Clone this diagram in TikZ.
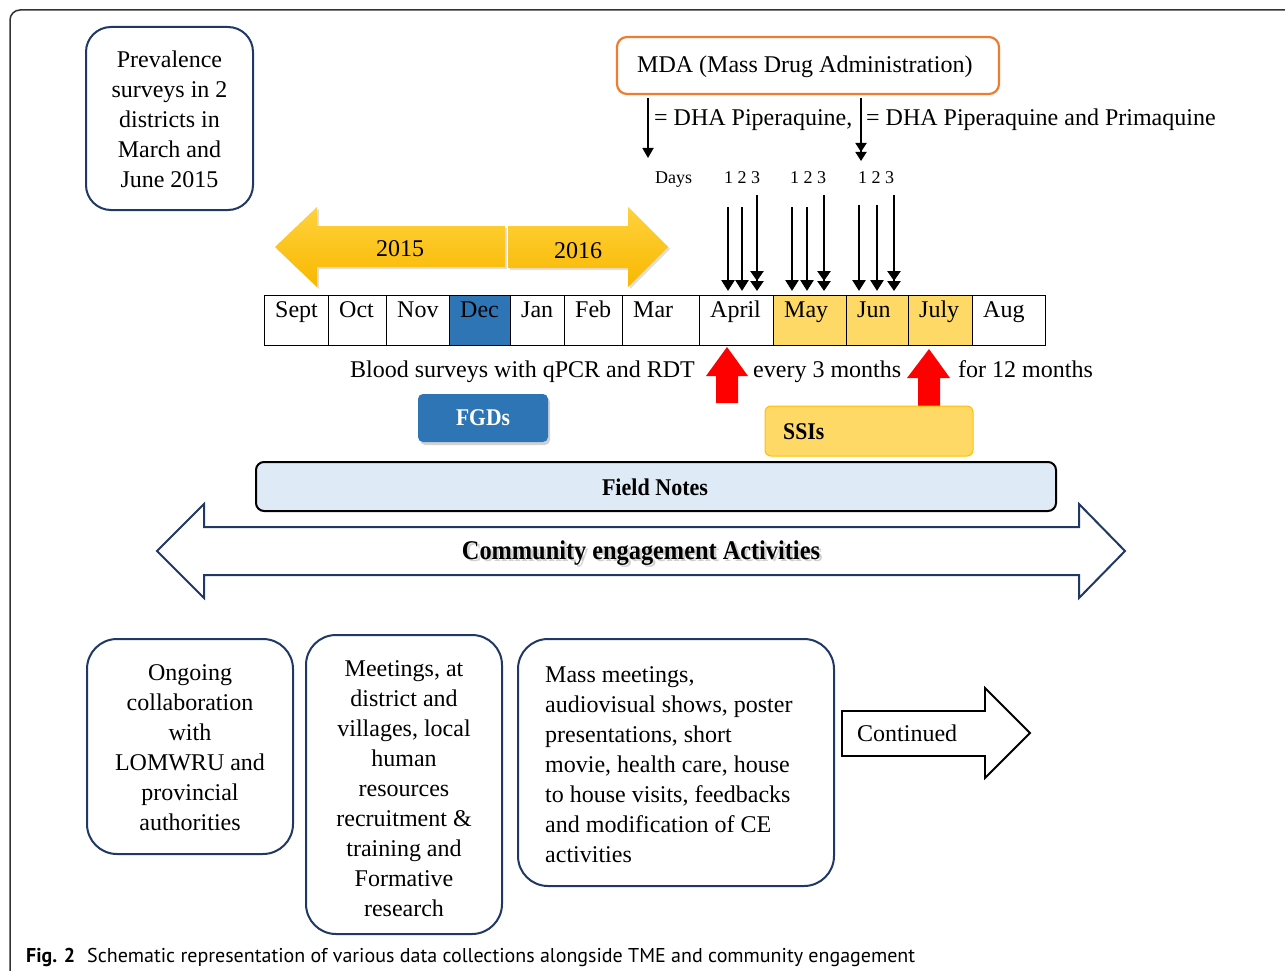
\documentclass[tikz,border=0pt]{standalone}
\usepackage{fontspec}
\usepackage{graphicx}
\setmainfont{Liberation Serif}
\newfontfamily\capfont{PT Sans}
\usetikzlibrary{arrows.meta,shadows,calc}
\definecolor{navy}{RGB}{32,56,100}
\definecolor{goldA}{RGB}{255,210,60}
\definecolor{goldB}{RGB}{248,184,0}
\definecolor{lgold}{RGB}{255,217,102}
\definecolor{sgold}{RGB}{255,192,0}
\definecolor{decblue}{RGB}{46,117,182}
\definecolor{lblue}{RGB}{222,235,247}
\definecolor{mdaorange}{RGB}{237,125,49}
\tikzset{
  txt/.style={font=\fontsize{24}{30}\selectfont, inner sep=0pt},
  small/.style={font=\fontsize{18}{22}\selectfont, inner sep=0pt},
  navybox/.style={draw=navy, line width=2pt, rounded corners=25pt, inner sep=0pt},
  cell/.style={draw=black, line width=1.1pt, inner sep=0pt, anchor=north west, minimum height=50pt},
  dayone/.style={line width=2.6pt, -{Triangle[length=11pt,width=13pt]}},
  daythree/.style={line width=2.6pt, -{Triangle[length=10pt,width=13pt]Triangle[length=10pt,width=13pt]}},
  legone/.style={line width=1.8pt, -{Triangle[length=10pt,width=11pt]}},
  legthree/.style={line width=1.8pt, -{Triangle[length=9pt,width=11pt]Triangle[length=9pt,width=11pt]}},
  yeararrow/.style={top color=goldA, bottom color=goldB, draw=none, drop shadow={shadow xshift=2pt, shadow yshift=-2pt, opacity=0.25}},
  redarrow/.style={fill=red, draw=none},
  boldlbl/.style={inner sep=0pt, font=\fontsize{24}{28}\selectfont\bfseries},
}
\begin{document}
\begin{tikzpicture}[x=1pt,y=-1pt]
\useasboundingbox (0,0) rectangle (1285,971);
\fill[white] (0,0) rectangle (1285,971);
% outer frame
\draw[line width=1.5pt, black!80, rounded corners=10pt] (10,980) -- (10,10) -- (1295,10);

% prevalence box
\node[navybox, minimum width=167pt, minimum height=183pt] (prevbox) at (169.5,118.5) {};
\node[txt, align=center] (prevtxt) at (169.5,119.5) {Prevalence\\surveys in 2\\districts in\\March and\\June 2015};

% MDA box
\node[draw=mdaorange, line width=2.2pt, rounded corners=10pt, minimum width=382pt, minimum height=57pt, inner sep=0pt] (mdabox) at (808,65.5) {};
\node[txt, anchor=base west] (mdatxt) at (637,73) {MDA (Mass Drug Administration)};

% legend
\coordinate (l1s) at (648,98);
\coordinate (l1e) at (648,158);
\draw[legone] (l1s) -- (l1e);
\node[txt, anchor=base west] (leg1) at (654,126) {= DHA Piperaquine,};
\coordinate (l2s) at (861,98);
\coordinate (l2e) at (861,161);
\draw[legthree] (l2s) -- (l2e);
\node[txt, anchor=base west] (leg2) at (866,126) {= DHA Piperaquine and Primaquine};

% days
\node[small, anchor=base west] (days) at (655,183) {Days};
\node[small, anchor=base] (g1) at (742,183) {1 2 3};
\node[small, anchor=base] (g2) at (808,183) {1 2 3};
\node[small, anchor=base] (g3) at (876,183) {1 2 3};

% day arrows
\foreach \i/\x/\s/\st in {1/728/207/dayone,2/742/207/dayone,3/757/195/daythree,
                          4/792/207/dayone,5/807/207/dayone,6/824/195/daythree,
                          7/859/205/dayone,8/877/205/dayone,9/894/195/daythree}{
  \coordinate (dt\i) at (\x,\s);
  \coordinate (db\i) at (\x,291);
  \draw[\st] (dt\i) -- (db\i);
}

% year arrows
\path[yeararrow] (275,247) -- (317,207) -- (317,226) -- (505,226) -- (505,267) -- (317,267) -- (317,287) -- cycle;
\path[yeararrow] (508,226) -- (628,226) -- (628,207) -- (668,247) -- (628,287) -- (628,268) -- (508,268) -- cycle;
\node[txt, anchor=base] (y2015) at (400,256) {2015};
\node[txt, anchor=base] (y2016) at (578,258) {2016};

% months
\foreach \l/\r/\m/\f in {264/328/Sept/white,328/386/Oct/white,386/449/Nov/white,449/510/Dec/decblue,
                         510/564/Jan/white,564/622/Feb/white,622/699/Mar/white,699/773/April/white,
                         773/846/May/lgold,846/908/Jun/lgold,908/972/July/lgold,972/1045/Aug/white}{
  \node[cell, fill=\f, minimum width={\r-\l}] (c\m) at (\l,295) {};
  \node[txt, anchor=base west] (t\m) at (\l+11,317) {\m};
}

% blood survey line
\node[txt, anchor=base west] (blood) at (350,377) {Blood surveys with qPCR and RDT};
\node[txt, anchor=base west] (every) at (753,377) {every 3 months};
\node[txt, anchor=base west] (for12) at (958,377) {for 12 months};
\path[redarrow] (727,347) -- (748,376) -- (738,376) -- (738,403) -- (716,403) -- (716,376) -- (706,376) -- cycle;
\path[redarrow] (929,349) -- (950,378) -- (940,378) -- (940,410) -- (918,410) -- (918,378) -- (907,378) -- cycle;

% FGDs
\node[fill=decblue, rounded corners=5pt, minimum width=130pt, minimum height=48pt, inner sep=0pt,
      drop shadow={shadow xshift=2pt, shadow yshift=-3pt, opacity=0.35}] (fgdbox) at (483,418) {};
\node[boldlbl, text=white] (fgd) at (483,418) {\resizebox{54pt}{\height}{FGDs}};

% SSIs
\node[fill=lgold, draw=sgold, line width=1pt, rounded corners=6pt, minimum width=208pt, minimum height=50pt, inner sep=0pt] (ssibox) at (869,431) {};
\node[boldlbl, anchor=west] (ssi) at (783,432) {\resizebox{41pt}{\height}{SSIs}};

% Field notes
\node[fill=lblue, draw=black, line width=2pt, rounded corners=8pt, minimum width=800pt, minimum height=49pt, inner sep=0pt] (fnbox) at (656,486.5) {};
\node[boldlbl] (fn) at (655,487) {\resizebox{106pt}{\height}{Field Notes}};

% community engagement arrow
\draw[navy, line width=2pt, fill=white, line join=miter] (157,551) -- (204,504) -- (204,527) -- (1079,527) -- (1079,504) -- (1125,551) -- (1079,598) -- (1079,575) -- (204,575) -- (204,598) -- cycle;
\node[boldlbl, font=\fontsize{27}{30}\selectfont\bfseries, text=black!18] (ceshadow) at (643.5,555.5) {\resizebox{358pt}{\height}{Community engagement Activities}};
\node[boldlbl, font=\fontsize{27}{30}\selectfont\bfseries] (ce) at (641,553) {\resizebox{358pt}{\height}{Community engagement Activities}};

% bottom boxes
\node[navybox, rounded corners=30pt, minimum width=206pt, minimum height=215pt] (b1) at (190,746.5) {};
\node[txt, align=center] (b1t) at (190,747.5) {Ongoing\\collaboration\\with\\LOMWRU and\\provincial\\authorities};
\node[navybox, rounded corners=30pt, minimum width=196pt, minimum height=299pt] (b2) at (404,784.5) {};
\node[txt, align=center] (b2t) at (404,788.5) {Meetings, at\\district and\\villages, local\\human\\resources\\recruitment \&\\training and\\Formative\\research};
\node[navybox, rounded corners=30pt, minimum width=316pt, minimum height=247pt] (b3) at (676,762.5) {};
\node[txt, align=left, anchor=west] (b3t) at (545,764.5) {Mass meetings,\\audiovisual shows, poster\\presentations, short\\movie, health care, house\\to house visits, feedbacks\\and modification of CE\\activities};

% continued arrow
\draw[black, line width=1.8pt, fill=white, line join=miter] (842,711) -- (985,711) -- (985,688) -- (1030,733) -- (985,778) -- (985,756) -- (842,756) -- cycle;
\node[txt, anchor=base west] (cont) at (857,741) {Continued};

% caption
\node[inner sep=0pt, anchor=base west, font=\capfont\fontsize{20}{24}\selectfont\bfseries] (figno) at (26,962) {\resizebox{49pt}{\height}{Fig. 2}};
\node[inner sep=0pt, anchor=base west, font=\capfont\fontsize{20}{24}\selectfont] (caption) at (87,962) {\resizebox{828pt}{\height}{Schematic representation of various data collections alongside TME and community engagement}};
\end{tikzpicture}
\end{document}
